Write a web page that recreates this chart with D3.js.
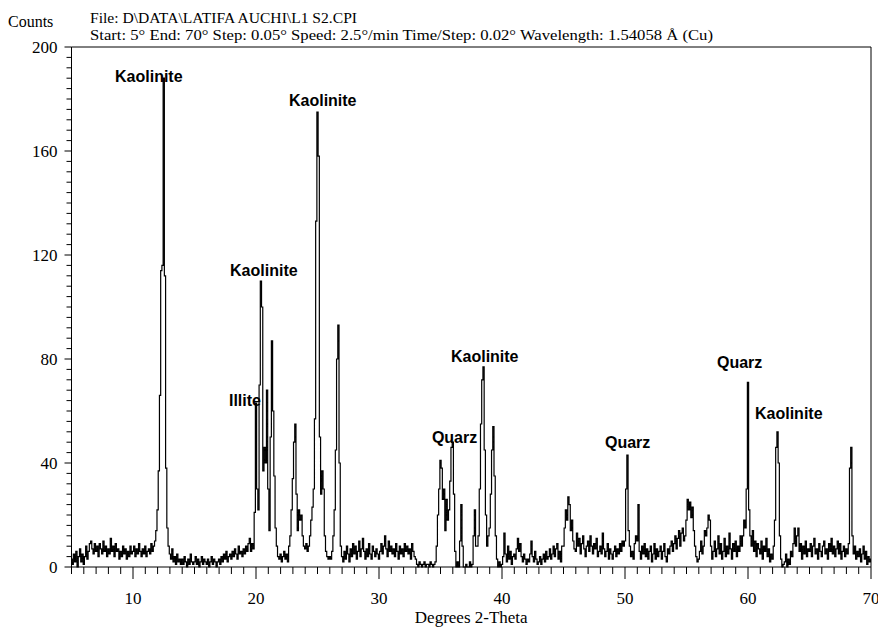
<!DOCTYPE html>
<html>
<head>
<meta charset="utf-8">
<script src="https://cdn.jsdelivr.net/npm/d3@7"></script>
<style>
  body { margin: 0; background: #fff; }
  .serif { font-family: "Liberation Serif", "Times New Roman", serif; }
  .peak-label { font-family: "Liberation Sans", Arial, sans-serif; font-weight: bold; font-size: 16px; }
</style>
</head>
<body>
<div id="chart"></div>
<script>
// ===========================
// XRD pattern - L1 S2 (Counts vs Degrees 2-Theta)
// ===========================

// scan grid as in the header: start 5, end 70, sampled here every 0.1 deg
const scanStart = 5;
const scanEnd = 70;
const scanStep = 0.1;

// counts, one row per degree (d.0 ... d.9)
const counts = [
  3,1,5,2,6,0,4,7,2,5,          // 5
  1,4,8,3,6,9,10,7,5,9,         // 6
  6,8,4,9,7,5,10,6,8,4,         // 7
  7,5,11,6,8,4,9,6,7,3,         // 8
  6,4,8,5,7,3,6,4,8,5,          // 9
  6,8,4,7,5,9,6,4,7,5,          // 10
  8,4,6,7,5,9,6,8,10,14,        // 11
  22,37,66,114,116,188,112,38,15,8, // 12
  5,3,7,2,4,1,5,2,3,1,          // 13
  3,1,4,2,0,3,1,5,2,1,          // 14
  2,4,1,3,0,2,4,1,3,2,          // 15
  1,3,0,2,4,1,3,2,0,2,          // 16
  3,1,4,2,5,3,6,2,4,5,          // 17
  3,6,4,7,5,3,8,5,6,4,          // 18
  7,5,8,6,9,11,6,9,7,21,        // 19
  63,30,22,70,110,100,37,46,40,68, // 20
  30,14,50,87,60,35,15,8,4,3,   // 21
  5,2,4,6,3,5,2,8,12,22,        // 22
  34,48,55,28,14,22,18,20,12,8, // 23
  7,9,6,8,12,18,23,30,57,133,   // 24
  175,158,50,28,37,30,12,6,4,3, // 25
  4,3,6,12,22,45,80,93,40,8,    // 26
  4,2,6,3,8,5,2,7,4,9,          // 27
  5,8,3,6,10,4,7,11,6,3,        // 28
  7,4,9,5,3,8,6,4,7,5,          // 29
  3,6,9,5,8,12,7,4,10,6,        // 30
  8,5,7,4,9,6,3,8,5,7,          // 31
  4,9,6,8,5,7,3,9,6,4,          // 32
  3,1,0,2,1,0,1,2,0,1,          // 33
  1,0,2,1,0,1,2,8,20,30,        // 34
  41,38,26,30,14,26,18,22,33,46, // 35
  48,28,6,0,2,0,10,24,8,0,      // 36
  0,1,0,0,2,0,1,12,22,8,        // 37
  8,12,30,55,72,77,45,20,8,12,  // 38
  15,28,45,54,35,12,3,0,2,0,    // 39
  1,4,13,5,2,8,3,6,1,4,         // 40
  5,3,7,11,6,9,4,2,5,3,         // 41
  1,3,2,5,10,4,2,6,3,1,         // 42
  2,4,1,3,5,2,6,3,4,7,          // 43
  3,5,8,4,7,9,3,6,2,8,          // 44
  8,15,22,18,27,24,14,18,10,7,  // 45
  6,13,8,11,5,9,12,7,4,8,       // 46
  10,6,12,8,5,9,7,11,4,6,       // 47
  8,5,13,7,4,6,9,3,7,5,         // 48
  3,6,8,4,7,5,9,6,10,8,         // 49
  10,30,43,14,8,4,6,3,9,12,     // 50
  10,24,6,3,8,5,9,4,7,3,        // 51
  6,8,2,5,9,3,7,4,6,8,          // 52
  3,6,9,4,2,7,5,8,10,6,         // 53
  9,12,7,11,14,8,13,15,10,12,   // 54
  18,26,22,25,19,23,14,8,4,2,   // 55
  3,6,10,5,8,14,12,15,20,18,    // 56
  8,3,6,10,4,7,12,5,9,3,        // 57
  6,11,4,8,5,13,7,3,9,6,        // 58
  10,4,8,6,12,8,12,18,15,30,    // 59
  71,22,12,8,14,6,10,4,9,7,     // 60
  5,10,3,8,6,11,4,7,2,5,        // 61
  3,8,18,46,52,40,12,3,0,1,     // 62
  2,5,0,3,1,6,4,9,15,8,         // 63
  12,15,6,9,3,8,5,10,4,7,       // 64
  6,9,4,8,11,5,7,3,9,6,         // 65
  4,8,10,5,7,3,9,6,11,5,        // 66
  8,4,7,10,5,9,3,6,8,4,         // 67
  7,5,9,38,46,12,5,8,3,6,       // 68
  4,7,2,5,8,3,6,1,4,2,          // 69
  3                             // 70
];

// axis ticks
const xTickLabels = [10, 20, 30, 40, 50, 60, 70];
const yTickLabels = [0, 40, 80, 120, 160, 200];

// phase labels: text, angle (left edge of text), counts (baseline)
const labelNames = ["Kaolinite", "Kaolinite", "Kaolinite", "Illite", "Kaolinite", "Quarz", "Quarz", "Quarz", "Kaolinite"];
const labelAngles = [8.54, 22.68, 17.89, 17.8, 35.85, 34.3, 48.37, 57.48, 60.57];
const labelCounts = [186.5, 177.3, 111.9, 61.9, 78.8, 47.7, 45.8, 76.5, 56.9];

const headerLines = [
  "File: D\\DATA\\LATIFA AUCHI\\L1 S2.CPI",
  "Start: 5\u00b0 End: 70\u00b0 Step: 0.05\u00b0 Speed: 2.5\u00b0/min Time/Step: 0.02\u00b0 Wavelength: 1.54058 \u00c5 (Cu)"
];
const headerWidths = [267, 623];

(function () {
  const width = 878, height = 628;
  const margin = { top: 47, right: 7, bottom: 61, left: 71.5 };

  const svg = d3.select("#chart").append("svg")
    .attr("width", width)
    .attr("height", height);

  const x = d3.scaleLinear().domain([scanStart, scanEnd]).range([margin.left, width - margin.right]);
  const y = d3.scaleLinear().domain([0, 200]).range([height - margin.bottom, margin.top]);

  const pattern = counts.map((c, i) => ({ angle: scanStart + i * scanStep, c: c }));

  // ---- frame (top + right) ----
  svg.append("path")
    .attr("d", `M${x(5)},${y(200)}H${x(70)}V${y(0)}`)
    .attr("fill", "none")
    .attr("stroke", "#000")
    .attr("stroke-width", 1);

  // ---- x axis ----
  const xAxis = svg.append("g").attr("transform", `translate(0,${y(0)})`);
  xAxis.append("line")
    .attr("x1", x(5)).attr("x2", x(70))
    .attr("stroke", "#000");
  xAxis.selectAll(".minor")
    .data(d3.range(5, 71, 1))
    .join("line")
    .attr("x1", d => x(d)).attr("x2", d => x(d))
    .attr("y1", 0).attr("y2", d => d % 10 === 0 ? 12 : 7)
    .attr("stroke", "#000");
  xAxis.selectAll("text")
    .data(xTickLabels)
    .join("text")
    .attr("class", "serif")
    .attr("x", d => x(d))
    .attr("y", 37)
    .attr("text-anchor", "middle")
    .style("font-size", "17px")
    .text(d => d);

  svg.append("text")
    .attr("class", "serif")
    .attr("x", x(37.5))
    .attr("y", 623)
    .attr("text-anchor", "middle")
    .style("font-size", "17px")
    .text("Degrees 2-Theta");

  // ---- y axis ----
  const yAxis = svg.append("g").attr("transform", `translate(${x(5)},0)`);
  yAxis.append("line")
    .attr("y1", y(0)).attr("y2", y(200))
    .attr("stroke", "#000");
  yAxis.selectAll(".tick")
    .data(d3.range(0, 201, 4))
    .join("line")
    .attr("y1", d => y(d)).attr("y2", d => y(d))
    .attr("x1", 0).attr("x2", d => d % 40 === 0 ? -7 : -5)
    .attr("stroke", "#000");
  yAxis.selectAll("text")
    .data(yTickLabels)
    .join("text")
    .attr("class", "serif")
    .attr("x", -14)
    .attr("y", d => y(d))
    .attr("dy", "0.35em")
    .attr("text-anchor", "end")
    .style("font-size", "17px")
    .text(d => d);

  // ---- header ----
  svg.append("text")
    .attr("class", "serif")
    .attr("x", 8).attr("y", 27)
    .style("font-size", "16px")
    .text("Counts");
  svg.selectAll(".header")
    .data(headerLines)
    .join("text")
    .attr("class", "serif header")
    .attr("x", 90)
    .attr("y", (d, i) => 23 + i * 17)
    .attr("textLength", (d, i) => headerWidths[i])
    .attr("lengthAdjust", "spacingAndGlyphs")
    .style("font-size", "15px")
    .text(d => d);

  // ---- pattern ----
  const line = d3.line()
    .curve(d3.curveStep)
    .x(d => x(d.angle))
    .y(d => y(d.c));

  svg.append("path")
    .datum(pattern)
    .attr("d", line)
    .attr("fill", "none")
    .attr("stroke", "#000")
    .attr("stroke-width", 1.2);

  // ---- phase labels ----
  svg.selectAll(".peak-label")
    .data(labelNames)
    .join("text")
    .attr("class", "peak-label")
    .attr("x", (d, i) => x(labelAngles[i]))
    .attr("y", (d, i) => y(labelCounts[i]))
    .text(d => d);
})();
</script>
</body>
</html>
